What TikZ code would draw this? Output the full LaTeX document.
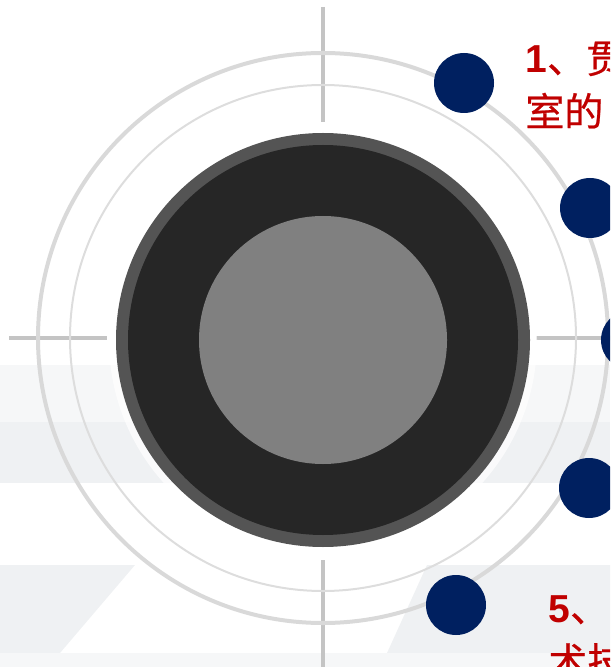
\documentclass[tikz,border=0pt]{standalone}
\usepackage{fontspec}
\setmainfont{Liberation Sans}
\newfontfamily\cjk[FakeBold=0.6]{Noto Sans CJK SC}
\definecolor{navy}{HTML}{002060}
\definecolor{deepred}{HTML}{C00000}
\definecolor{floor}{HTML}{EFF1F3}
\definecolor{floorlight}{HTML}{F6F7F8}
\definecolor{ringgray}{HTML}{D9D9D9}
\definecolor{crossgray}{HTML}{C4C4C4}
\tikzset{
  dot/.style={circle, fill=navy, minimum size=30pt, inner sep=0pt},
  label/.style={text=deepred, anchor=base west, inner sep=0pt, font=\fontsize{19.5}{26.5}\selectfont}
}
\begin{document}
\begin{tikzpicture}[x=0.5pt, y=-0.5pt]
            % the frame
            \useasboundingbox (0,0) rectangle (610,667);
            \path[clip] (0,0) rectangle (610,667);
            % the floor
            \fill[floorlight] (0,365) rectangle (610,422);
            \fill[floor] (0,422) rectangle (610,483);
            \fill[floor] (0,565) -- (135,565) -- (60,653) -- (0,653) -- cycle;
            \fill[floor] (427,565) -- (610,565) -- (610,653) -- (387,653) -- cycle;
            \fill[floorlight] (0,653) rectangle (610,667);

            % the cross
            \draw[crossgray, line width=2pt] (323,7) -- (323,122);
            \draw[crossgray, line width=2pt] (323,560) -- (323,667);
            \draw[crossgray, line width=2pt] (9,338) -- (107,338);
            \draw[crossgray, line width=2pt] (536,338) -- (610,338);

            % the rings
            \draw[ringgray, line width=2pt] (323,338) circle (285);
            \draw[ringgray!90, line width=1pt] (323,338) circle (253);

            % the body
            \fill[white, opacity=0.7] (323,340) circle (214);
            \fill[black!67] (323,340) circle (207);
            \fill[black!85] (323,340) circle (195);
            \fill[black!50] (323,340) circle (124);

            % the dots
            \node[dot] (d1) at (464,83) {};
            \node[dot] (d2) at (590,208) {};
            \node[dot] (d3) at (631,340) {};
            \node[dot] (d4) at (589,488) {};
            \node[dot] (d5) at (456,605) {};

            % labels
            \node[label] (t1) at (525,73) {\textbf{1}{\cjk 、贯}};
            \node[label] (t1b) at (525,126) {\cjk 室的};
            \node[label] (t5) at (548,622) {\textbf{5}{\cjk 、}};
            \node[label] (t5b) at (548,676) {\cjk 术技};
        \end{tikzpicture}
\end{document}
